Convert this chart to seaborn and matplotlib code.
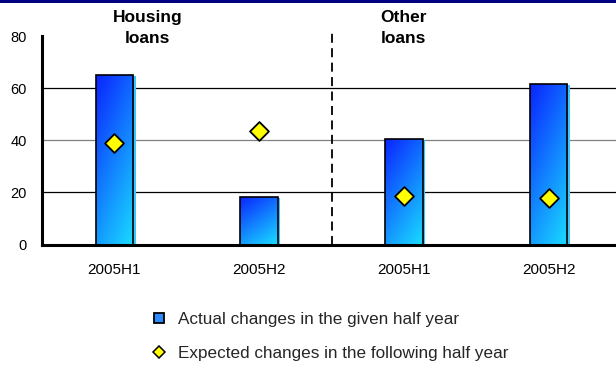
import numpy as np
import pandas as pd
import matplotlib
matplotlib.use("Agg")
import matplotlib.pyplot as plt
import matplotlib.transforms as mtransforms
from matplotlib.patches import Rectangle
from matplotlib.lines import Line2D
import seaborn as sns

# --- data -------------------------------------------------------------
groups = ["Housing\nloans", "Other\nloans"]
periods = ["2005H1", "2005H2", "2005H1", "2005H2"]
slots = ["Housing 2005H1", "Housing 2005H2", "Other 2005H1", "Other 2005H2"]
actual = [65.0, 18.2, 40.4, 61.4]
expected = [39.0, 43.5, 18.8, 18.0]
legend_labels = ["Actual changes in the given half year",
                 "Expected changes in the following half year"]
yticks = [0, 20, 40, 60, 80]

df = pd.DataFrame({"slot": slots, "period": periods,
                   "actual": actual, "expected": expected})

# --- style ------------------------------------------------------------
sns.set_theme(style="white")
plt.rcParams["font.family"] = ["Liberation Sans", "DejaVu Sans"]

W, H = 616, 368
fig = plt.figure(figsize=(W / 100, H / 100), dpi=100)
fig.patch.set_facecolor("white")
ax = fig.add_axes([42 / W, (H - 244.5) / H, 579 / W, (244.5 - 36) / H])
ax.set_facecolor("white")

# bars
sns.barplot(data=df, x="slot", y="actual", order=slots, width=0.26,
            color="#1e6bff", ax=ax, zorder=3)
# diamonds
sns.scatterplot(data=df, x="slot", y="expected", marker="D", s=92,
                color="#ffff00", edgecolor="black", linewidth=1.3,
                ax=ax, zorder=6, legend=False)

ax.set_xlim(-0.5, 3.5)
ax.set_ylim(0, 80)

# gradient fill for each bar, with a light shadow on the right side
top_left = np.array([0.04, 0.14, 1.0])
bot_right = np.array([0.10, 0.86, 1.0])
ny, nx = 120, 40
u = np.linspace(0, 1, nx)[None, :]
v = np.linspace(0, 1, ny)[:, None]
t = np.clip(0.35 * u + 0.65 * (1 - v), 0, 1)
grad = top_left[None, None, :] * (1 - t[..., None]) + bot_right[None, None, :] * t[..., None]
shadow_tr = mtransforms.offset_copy(ax.transData, fig=fig, x=2.5, y=-1, units="dots")
for patch in list(ax.patches):
    x0, y0 = patch.get_x(), patch.get_y()
    w, h = patch.get_width(), patch.get_height()
    ax.add_patch(Rectangle((x0, y0), w, h, transform=shadow_tr,
                           facecolor="#3cc6ff", edgecolor="none", zorder=2.5))
    im = ax.imshow(grad, extent=[x0, x0 + w, y0, y0 + h], origin="lower",
                   aspect="auto", zorder=3.2, interpolation="bilinear")
    im.set_clip_path(patch)
    patch.set_facecolor("none")
    patch.set_edgecolor("black")
    patch.set_linewidth(1.2)
    patch.set_zorder(3.5)
ax.set_xlim(-0.5, 3.5)
ax.set_ylim(0, 80)

# horizontal gridlines
for yv, col in [(20, "black"), (40, "#808080"), (60, "black")]:
    ax.axhline(yv, color=col, lw=0.9, zorder=1)

# separator between loan types
ax.plot([1.5, 1.5], [0, 82.5], color="black", lw=1.3, ls=(0, (5, 3)),
        clip_on=False, zorder=1.5)

# axes styling
for side in ["top", "right"]:
    ax.spines[side].set_visible(False)
for side in ["left", "bottom"]:
    ax.spines[side].set_linewidth(2.2)
    ax.spines[side].set_color("black")
    ax.spines[side].set_zorder(7)

ax.set_yticks(yticks)
ax.set_yticklabels([str(y) for y in yticks])
ax.set_xticks([-0.5, 0.5, 1.5, 2.5, 3.5])
ax.set_xticklabels([])
ax.set_xticks([0, 1, 2, 3], minor=True)
ax.set_xticklabels(periods, minor=True)
ax.tick_params(axis="x", which="major", direction="out", length=4, width=2.2, color="black")
ax.tick_params(axis="x", which="minor", length=0, pad=13, labelsize=11, labelcolor="black")
ax.tick_params(axis="y", direction="out", length=4, width=2.2, color="black",
               pad=7, labelsize=10.5, labelcolor="black")
ax.set_xlabel("")
ax.set_ylabel("")

# group headings
blend = mtransforms.blended_transform_factory(ax.transData, fig.transFigure)
for xg, g in zip([0.23, 2.0], groups):
    ax.text(xg, 1 - 28 / H, g, transform=blend, ha="center", va="center",
            fontsize=12.5, fontweight="bold", linespacing=1.5, color="black")

# legend
handles = [
    Line2D([], [], ls="none", marker="s", markersize=7.5, markerfacecolor="#2a8cff",
           markeredgecolor="black", markeredgewidth=1.3),
    Line2D([], [], ls="none", marker="D", markersize=6.5, markerfacecolor="#ffff00",
           markeredgecolor="black", markeredgewidth=1.1),
]
fig.legend(handles, legend_labels, loc="upper left",
           bbox_to_anchor=(151 / W, 1 - 312 / H), frameon=False,
           handlelength=0.9, handletextpad=0.7, labelspacing=1.12,
           borderpad=0, borderaxespad=0, fontsize=12.3)

# thin navy rule along the top edge
fig.add_artist(Rectangle((0, 1 - 2.5 / H), 1, 2.5 / H, transform=fig.transFigure,
                         facecolor="#000080", edgecolor="none"))

fig.savefig("out.png", dpi=100)
